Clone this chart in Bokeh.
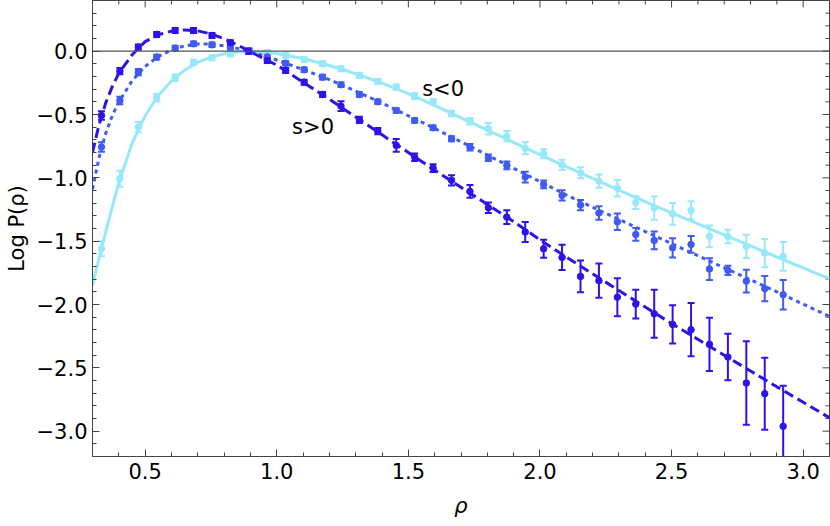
import math
from bokeh.plotting import figure
from bokeh.models import (Range1d, SingleIntervalTicker, CustomJSTickFormatter,
                          Span, Whisker, TeeHead, ColumnDataSource)
from bokeh.core.properties import value
from bokeh.embed import file_html
from bokeh.resources import INLINE

# ---- data ----
rho = [0.334, 0.404, 0.474, 0.544, 0.614, 0.684, 0.754, 0.824, 0.894, 0.964,
       1.034, 1.104, 1.174, 1.244, 1.314, 1.384, 1.454, 1.524, 1.594, 1.664,
       1.734, 1.804, 1.874, 1.944, 2.014, 2.084, 2.154, 2.224, 2.294, 2.364,
       2.434, 2.504, 2.574, 2.644, 2.714, 2.784, 2.854, 2.924]

# s<0 (light cyan, solid)
neg_y = [-1.56, -1.007, -0.60, -0.368, -0.21, -0.087, -0.052, -0.021, 0.002, -0.01,
         -0.034, -0.066, -0.10, -0.139, -0.192, -0.239, -0.284, -0.355, -0.40, -0.492,
         -0.553, -0.613, -0.671, -0.766, -0.81, -0.898, -0.96, -1.026, -1.082, -1.196,
         -1.239, -1.284, -1.257, -1.463, -1.463, -1.541, -1.594, -1.62]
neg_err = [0.06, 0.063, 0.04, 0.03, 0.025, 0.02, 0.02, 0.02, 0.02, 0.02,
           0.02, 0.02, 0.02, 0.02, 0.02, 0.02, 0.02, 0.022, 0.022, 0.022,
           0.026, 0.045, 0.04, 0.048, 0.036, 0.04, 0.044, 0.053, 0.065, 0.05,
           0.092, 0.086, 0.072, 0.086, 0.053, 0.092, 0.112, 0.114]

# medium blue, dotted
mid_y = [-0.757, -0.389, -0.166, -0.047, 0.024, 0.058, 0.050, 0.032, 0.005, -0.045,
         -0.095, -0.147, -0.205, -0.265, -0.342, -0.40, -0.468, -0.547, -0.605, -0.692,
         -0.758, -0.842, -0.902, -0.994, -1.052, -1.139, -1.215, -1.278, -1.347, -1.447,
         -1.494, -1.552, -1.526, -1.72, -1.731, -1.815, -1.875, -1.923]
mid_err = [0.037, 0.03, 0.025, 0.018, 0.018, 0.018, 0.018, 0.018, 0.018, 0.018,
           0.018, 0.018, 0.018, 0.018, 0.018, 0.018, 0.018, 0.018, 0.018, 0.02,
           0.026, 0.026, 0.03, 0.043, 0.03, 0.04, 0.04, 0.053, 0.065, 0.05,
           0.07, 0.076, 0.066, 0.086, 0.036, 0.09, 0.10, 0.116]

# s>0 (dark blue, dashed)
pos_y = [-0.508, -0.158, 0.032, 0.132, 0.163, 0.163, 0.124, 0.066, -0.002, -0.073,
         -0.152, -0.245, -0.342, -0.434, -0.542, -0.631, -0.744, -0.837, -0.923, -1.02,
         -1.107, -1.236, -1.31, -1.428, -1.56, -1.628, -1.778, -1.812, -1.942, -1.997,
         -2.073, -2.157, -2.199, -2.315, -2.415, -2.62, -2.704, -2.962]
pos_err = [0.033, 0.025, 0.02, 0.02, 0.02, 0.02, 0.02, 0.02, 0.02, 0.02,
           0.02, 0.02, 0.02, 0.038, 0.025, 0.025, 0.05, 0.03, 0.03, 0.04,
           0.05, 0.042, 0.055, 0.079, 0.071, 0.10, 0.125, 0.135, 0.15, 0.114,
           0.19, 0.151, 0.21, 0.21, 0.184, 0.33, 0.284, 0.32]

# fitted curves
curve_x = [0.30, 0.325, 0.35, 0.375, 0.40, 0.45, 0.50, 0.55, 0.60, 0.65, 0.70, 0.75,
           0.80, 0.85, 0.90, 0.95, 1.00, 1.10, 1.20, 1.30, 1.40, 1.50, 1.60, 1.70,
           1.80, 1.90, 2.00, 2.10, 2.20, 2.30, 2.40, 2.50, 2.60, 2.70, 2.80, 2.90,
           3.00, 3.10]
neg_fit = [-1.85, -1.63, -1.43, -1.23, -1.04, -0.73, -0.51, -0.35, -0.235, -0.15, -0.088, -0.047,
           -0.02, -0.006, -0.001, -0.005, -0.018, -0.058, -0.113, -0.178, -0.252, -0.335, -0.428, -0.527,
           -0.624, -0.72, -0.816, -0.912, -1.005, -1.097, -1.187, -1.276, -1.364, -1.451, -1.538, -1.625,
           -1.711, -1.797]
mid_fit = [-1.09, -0.84, -0.65, -0.51, -0.40, -0.235, -0.12, -0.042, 0.01, 0.042, 0.057, 0.056,
           0.042, 0.022, -0.004, -0.035, -0.07, -0.145, -0.225, -0.315, -0.41, -0.51, -0.61, -0.715,
           -0.82, -0.925, -1.03, -1.135, -1.232, -1.328, -1.424, -1.519, -1.614, -1.71, -1.805, -1.90,
           -1.997, -2.094]
pos_fit = [-0.80, -0.58, -0.41, -0.28, -0.175, -0.03, 0.075, 0.13, 0.158, 0.168, 0.16, 0.136,
           0.098, 0.05, -0.005, -0.058, -0.11, -0.245, -0.38, -0.52, -0.66, -0.80, -0.94, -1.075,
           -1.21, -1.345, -1.49, -1.625, -1.758, -1.89, -2.02, -2.15, -2.275, -2.40, -2.525, -2.65,
           -2.772, -2.894]

labels = ["s<0", "s>0"]
label_x = [1.632, 1.138]
label_y = [-0.302, -0.602]

# tick positions for the top / right frame edges
x_major_ticks = [0.5, 1.0, 1.5, 2.0, 2.5, 3.0]
x_minor_ticks = [0.3, 0.4, 0.6, 0.7, 0.8, 0.9, 1.1, 1.2, 1.3, 1.4, 1.6, 1.7, 1.8, 1.9,
                 2.1, 2.2, 2.3, 2.4, 2.6, 2.7, 2.8, 2.9, 3.1]
y_major_ticks = [-3.0, -2.5, -2.0, -1.5, -1.0, -0.5, 0.0]
y_minor_ticks = [-3.1, -2.9, -2.8, -2.7, -2.6, -2.4, -2.3, -2.2, -2.1, -1.9, -1.8, -1.7,
                 -1.6, -1.4, -1.3, -1.2, -1.1, -0.9, -0.8, -0.7, -0.6, -0.4, -0.3,
                 -0.2, -0.1, 0.1, 0.2, 0.3]

X0, X1 = 0.3, 3.1
Y0, Y1 = -3.2, 0.4

# ---- figure ----
FONT = "DejaVu Sans"
FS = "21px"
C_NEG = "#96E9FB"
C_MID = "#3F5BF2"
C_POS = "#2C14E8"
C_AX = "#444444"

p = figure(width=830, height=526, output_backend="svg", toolbar_location=None,
           x_range=Range1d(X0, X1), y_range=Range1d(Y0, Y1),
           min_border_left=92, min_border_right=1, min_border_top=0, min_border_bottom=70,
           background_fill_color="white", border_fill_color="white")
p.grid.visible = False
p.outline_line_color = C_AX

fmt = CustomJSTickFormatter(code="return tick.toFixed(1).replace('-', '\u2212');")

for ax in (p.xaxis[0], p.yaxis[0]):
    ax.ticker = SingleIntervalTicker(interval=0.5, num_minor_ticks=5)
    ax.major_tick_in = 7
    ax.major_tick_out = 0
    ax.minor_tick_in = 4
    ax.minor_tick_out = 0
    ax.axis_line_color = C_AX
    ax.major_tick_line_color = C_AX
    ax.minor_tick_line_color = C_AX
    ax.formatter = fmt
    ax.major_label_text_font = FONT
    ax.major_label_text_font_size = FS
    ax.major_label_text_color = "black"
    ax.axis_label_text_font = FONT
    ax.axis_label_text_font_size = FS
    ax.axis_label_text_color = "black"

p.xaxis.axis_label = "ρ"
p.xaxis.axis_label_text_font_style = "italic"
p.xaxis.major_label_standoff = 6
p.xaxis.axis_label_standoff = 12
p.yaxis.axis_label = "Log P(ρ)"
p.yaxis.axis_label_text_font_style = "normal"
p.yaxis.major_label_standoff = 5
p.yaxis.axis_label_standoff = 5

# inward ticks on the top and right frame edges (half of each dash is clipped away)
p.scatter(x_major_ticks, [Y1] * len(x_major_ticks), marker="dash", angle=math.pi / 2,
          size=14, line_color=C_AX, line_width=1)
p.scatter(x_minor_ticks, [Y1] * len(x_minor_ticks), marker="dash", angle=math.pi / 2,
          size=8, line_color=C_AX, line_width=1)
p.scatter([X1] * len(y_major_ticks), y_major_ticks, marker="dash",
          size=14, line_color=C_AX, line_width=1)
p.scatter([X1] * len(y_minor_ticks), y_minor_ticks, marker="dash",
          size=8, line_color=C_AX, line_width=1)

p.add_layout(Span(location=0, dimension="width", line_color="#555555", line_width=1.2))


def series(y, err, fit, color, dash):
    p.line(curve_x, fit, line_color=color, line_width=3, line_dash=dash)
    src = ColumnDataSource(dict(x=rho, y=y,
                                lo=[a - b for a, b in zip(y, err)],
                                hi=[a + b for a, b in zip(y, err)]))
    w = Whisker(base="x", lower="lo", upper="hi", source=src, dimension="height",
                line_color=color, line_width=2,
                lower_head=TeeHead(size=7, line_color=color, line_width=2),
                upper_head=TeeHead(size=7, line_color=color, line_width=2))
    p.add_layout(w)
    p.scatter("x", "y", source=src, size=6.5, marker="circle",
              fill_color=color, line_color=color)


series(neg_y, neg_err, neg_fit, C_NEG, "solid")
series(mid_y, mid_err, mid_fit, C_MID, "4 4")
series(pos_y, pos_err, pos_fit, C_POS, "10 5")

p.text(label_x, label_y, text=labels, text_font=value(FONT), text_font_size=FS,
       text_color="black", text_align="center", text_baseline="middle")

open("out.html", "w").write(file_html(p, INLINE))
